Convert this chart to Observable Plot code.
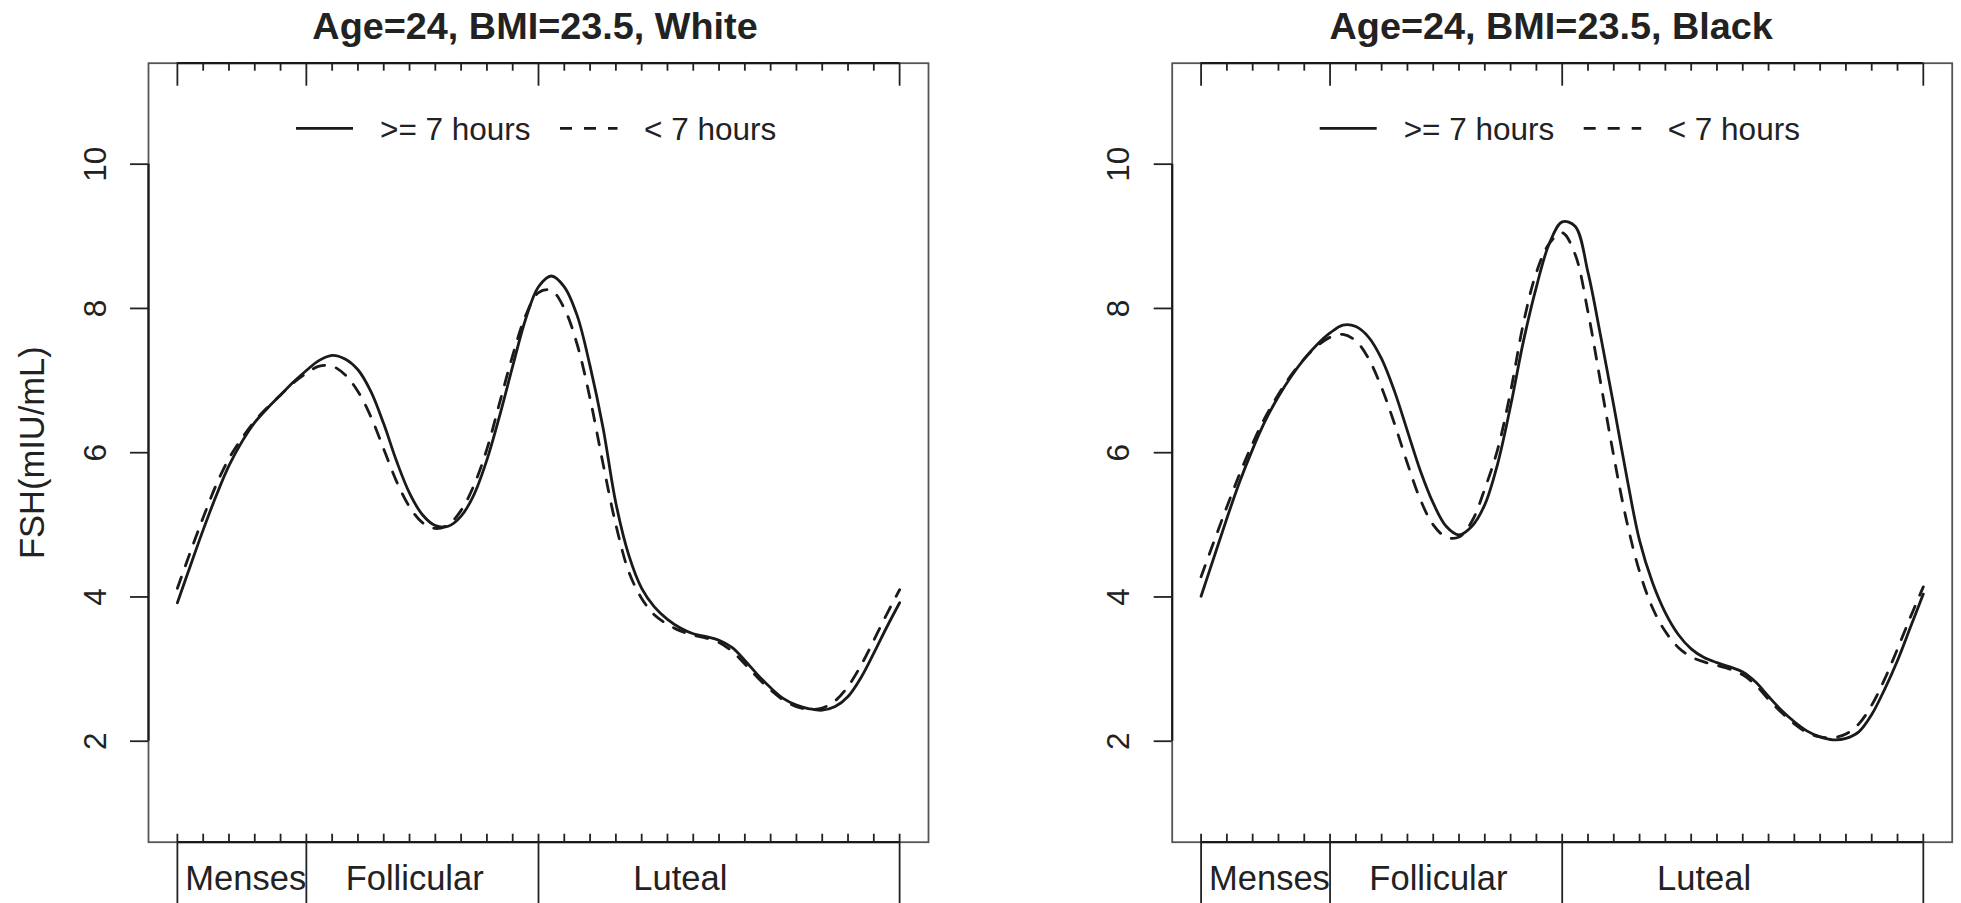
<!DOCTYPE html>
<html>
<head>
<meta charset="utf-8">
<script src="https://cdn.jsdelivr.net/npm/d3@7"></script>
<script src="https://cdn.jsdelivr.net/npm/@observablehq/plot@0.6"></script>
<style>
  html, body { margin: 0; padding: 0; background: #fff; }
  #wrap { position: relative; width: 1961px; height: 903px; overflow: hidden;
          font-family: "Liberation Sans", Arial, Helvetica, sans-serif; }
  .panel { position: absolute; top: 0; }
  .legend { position: absolute; top: 0; left: 0; pointer-events: none; }
</style>
</head>
<body>
<div id="wrap"></div>
<script>
// ---------- data ----------
const days = [
  0, 0.5, 1, 1.5, 2, 2.5, 3, 3.5, 4, 4.5,
  5, 5.5, 6, 6.5, 7, 7.5, 8, 8.5, 9, 9.5,
  10, 10.5, 11, 11.5, 12, 12.5, 13, 13.5, 14, 14.5,
  15, 15.5, 16, 16.5, 17, 17.5, 18, 18.5, 19, 19.5,
  20, 20.5, 21, 21.5, 22, 22.5, 23, 23.5, 24, 24.5,
  25, 25.5, 26, 26.5, 27, 27.5, 28
];
// FSH, White, >= 7 hours sleep
const whiteLong = [
  3.92, 4.43, 4.93, 5.40, 5.82, 6.15, 6.42, 6.62, 6.80, 6.98,
  7.14, 7.28, 7.35, 7.30, 7.15, 6.85, 6.40, 5.88, 5.44, 5.14,
  4.99, 4.98, 5.12, 5.42, 5.90, 6.52, 7.20, 7.85, 8.30, 8.45,
  8.30, 7.90, 7.20, 6.35, 5.30, 4.58, 4.12, 3.86, 3.69, 3.57,
  3.49, 3.45, 3.40, 3.30, 3.12, 2.92, 2.74, 2.59, 2.50, 2.45,
  2.43, 2.48, 2.62, 2.88, 3.22, 3.58, 3.92
];
// FSH, White, < 7 hours sleep
const whiteShort = [
  4.12, 4.62, 5.10, 5.55, 5.92, 6.20, 6.44, 6.63, 6.80, 6.97,
  7.10, 7.20, 7.20, 7.08, 6.85, 6.50, 6.05, 5.60, 5.25, 5.03,
  4.95, 5.00, 5.20, 5.55, 6.05, 6.70, 7.35, 7.90, 8.22, 8.25,
  8.00, 7.50, 6.75, 5.85, 5.00, 4.35, 3.98, 3.75, 3.62, 3.53,
  3.47, 3.43, 3.37, 3.25, 3.07, 2.88, 2.71, 2.57, 2.48, 2.44,
  2.46, 2.56, 2.76, 3.05, 3.40, 3.76, 4.10
];
// FSH, Black, >= 7 hours sleep
const blackLong = [
  4.01, 4.55, 5.09, 5.60, 6.05, 6.45, 6.78, 7.06, 7.30, 7.50,
  7.66, 7.77, 7.75, 7.60, 7.30, 6.85, 6.30, 5.75, 5.30, 4.98,
  4.86, 4.98, 5.28, 5.85, 6.65, 7.55, 8.30, 8.90, 9.20, 9.14,
  8.50, 7.60, 6.65, 5.67, 4.78, 4.20, 3.78, 3.48, 3.28, 3.16,
  3.09, 3.03, 2.96, 2.82, 2.62, 2.43, 2.27, 2.14, 2.06, 2.02,
  2.04, 2.13, 2.37, 2.72, 3.12, 3.58, 4.04
];
// FSH, Black, < 7 hours sleep
const blackShort = [
  4.28, 4.77, 5.25, 5.71, 6.13, 6.50, 6.81, 7.08, 7.30, 7.48,
  7.60, 7.64, 7.55, 7.30, 6.90, 6.40, 5.85, 5.35, 5.00, 4.83,
  4.83, 5.05, 5.50, 6.05, 6.85, 7.80, 8.50, 8.90, 9.05, 8.75,
  7.95, 6.95, 5.95, 5.05, 4.35, 3.85, 3.52, 3.30, 3.17, 3.10,
  3.05, 3.00, 2.92, 2.78, 2.58, 2.40, 2.24, 2.12, 2.06, 2.05,
  2.10, 2.24, 2.50, 2.86, 3.28, 3.72, 4.14
];
const titles = ["Age=24, BMI=23.5, White", "Age=24, BMI=23.5, Black"];
const seriesNames = [">= 7 hours", "< 7 hours"];
const yTicks = [2, 4, 6, 8, 10];
const dayTicks = [0,1,2,3,4,5,6,7,8,9,10,11,12,13,14,15,16,17,18,19,20,21,22,23,24,25,26,27,28];
const phaseBounds = [0, 5, 14, 28];
const phaseNames = ["Menses", "Follicular", "Luteal"];
const phaseLabelDay = [2.65, 9.2, 19.5];
const yLabel = "FSH(mIU/mL)";

// ---------- layout ----------
const H = 903, MT = 62.7, MB = 903 - 841.7;
const FH = H - MT - MB;
const FONT = "\"Liberation Sans\", Arial, Helvetica, sans-serif";
const FS = 31.5;
const FS_LAB = 34.5;

function panel(longV, shortV, title, cfg) {
  const W = cfg.width, ML = cfg.ml, MR = cfg.mr;
  const FW = W - ML - MR;
  const longRows = days.map((d, i) => ({day: d, v: longV[i]}));
  const shortRows = days.map((d, i) => ({day: d, v: shortV[i]}));
  const minor = dayTicks.filter(d => !phaseBounds.includes(d));
  const tickStyle = {stroke: "#222", strokeWidth: 1.8};
  const marks = [
    Plot.frame({stroke: "#555", strokeWidth: 1.8}),
    Plot.ruleY([0.6], {x1: 0, x2: 28, stroke: "#1a1a1a", strokeWidth: 2.2}),
    Plot.ruleY([11.4], {x1: 0, x2: 28, stroke: "#1a1a1a", strokeWidth: 2.2}),
    Plot.ruleX([-1.12], {y1: 2, y2: 10, stroke: "#1a1a1a", strokeWidth: 2.2}),
    // top ticks (inward)
    Plot.tickX(minor, {x: d => d, insetBottom: FH - 8, ...tickStyle}),
    Plot.tickX(phaseBounds, {x: d => d, insetBottom: FH - 23, ...tickStyle}),
    // bottom ticks (inward) and phase dividers
    Plot.tickX(minor, {x: d => d, insetTop: FH - 8, ...tickStyle}),
    Plot.tickX(phaseBounds, {x: d => d, insetTop: FH - 8, insetBottom: -MB, ...tickStyle}),
    // y ticks
    Plot.tickY(yTicks, {y: d => d, insetLeft: -18, insetRight: FW, ...tickStyle}),
    Plot.text(yTicks, {y: d => d, text: d => String(d), frameAnchor: "left", dx: -43,
      rotate: -90, textAnchor: "middle", lineAnchor: "bottom", fontSize: FS, fill: "#222"}),
    // phase labels
    Plot.text(phaseNames, {x: (d, i) => phaseLabelDay[i], text: d => d, frameAnchor: "bottom",
      dy: 47.8, lineAnchor: "bottom", textAnchor: "middle", fontSize: FS_LAB, fill: "#222"}),
    // title
    Plot.text([title], {text: d => d, frameAnchor: "top", dx: cfg.titleDx, dy: 38 - MT, lineAnchor: "bottom",
      textAnchor: "middle", fontSize: 37.8, fontWeight: "bold", fill: "#222"}),
    // curves
    Plot.line(longRows, {x: "day", y: "v", curve: "catmull-rom", stroke: "#1a1a1a", strokeWidth: 2.8}),
    Plot.line(shortRows, {x: "day", y: "v", curve: "catmull-rom", stroke: "#1a1a1a", strokeWidth: 2.8,
      strokeDasharray: "12,12"})
  ];
  if (cfg.yLabel) {
    marks.push(Plot.text([yLabel], {text: d => d, frameAnchor: "left", dx: 43 - ML, rotate: -90,
      textAnchor: "middle", lineAnchor: "bottom", fontSize: FS_LAB, fill: "#222"}));
  }
  const svg = Plot.plot({
    width: W, height: H,
    marginLeft: ML, marginRight: MR, marginTop: MT, marginBottom: MB,
    x: {domain: [-1.12, 29.12], axis: null},
    y: {domain: [0.6, 11.4], axis: null},
    style: {fontFamily: FONT, background: "transparent", overflow: "visible"},
    marks
  });
  const div = document.createElement("div");
  div.className = "panel";
  div.style.left = cfg.left + "px";
  div.style.width = W + "px";
  div.style.height = H + "px";
  div.appendChild(svg);

  // legend (inside the plot box, top)
  const lg = d3.create("svg").attr("class", "legend").attr("width", W).attr("height", 200)
    .style("font-family", FONT);
  const ly = 128.3, lb = 139.5;
  const items = [
    {x0: ML + 148, x1: ML + 205, tx: ML + 232, dash: null, label: seriesNames[0]},
    {x0: ML + 412, x1: ML + 469.5, tx: ML + 496, dash: "12,12", label: seriesNames[1]}
  ];
  for (const it of items) {
    lg.append("line").attr("x1", it.x0).attr("x2", it.x1).attr("y1", ly).attr("y2", ly)
      .attr("stroke", "#1a1a1a").attr("stroke-width", 2.8)
      .attr("stroke-dasharray", it.dash);
    lg.append("text").attr("x", it.tx).attr("y", lb).attr("font-size", FS).attr("fill", "#222")
      .text(it.label);
  }
  div.appendChild(lg.node());
  document.getElementById("wrap").appendChild(div);
}

panel(whiteLong, whiteShort, titles[0], {left: 0, width: 980, ml: 148, mr: 52, yLabel: true, titleDx: -3.5});
panel(blackLong, blackShort, titles[1], {left: 980, width: 981, ml: 191.7, mr: 9.3, yLabel: false, titleDx: -11});
</script>
</body>
</html>
